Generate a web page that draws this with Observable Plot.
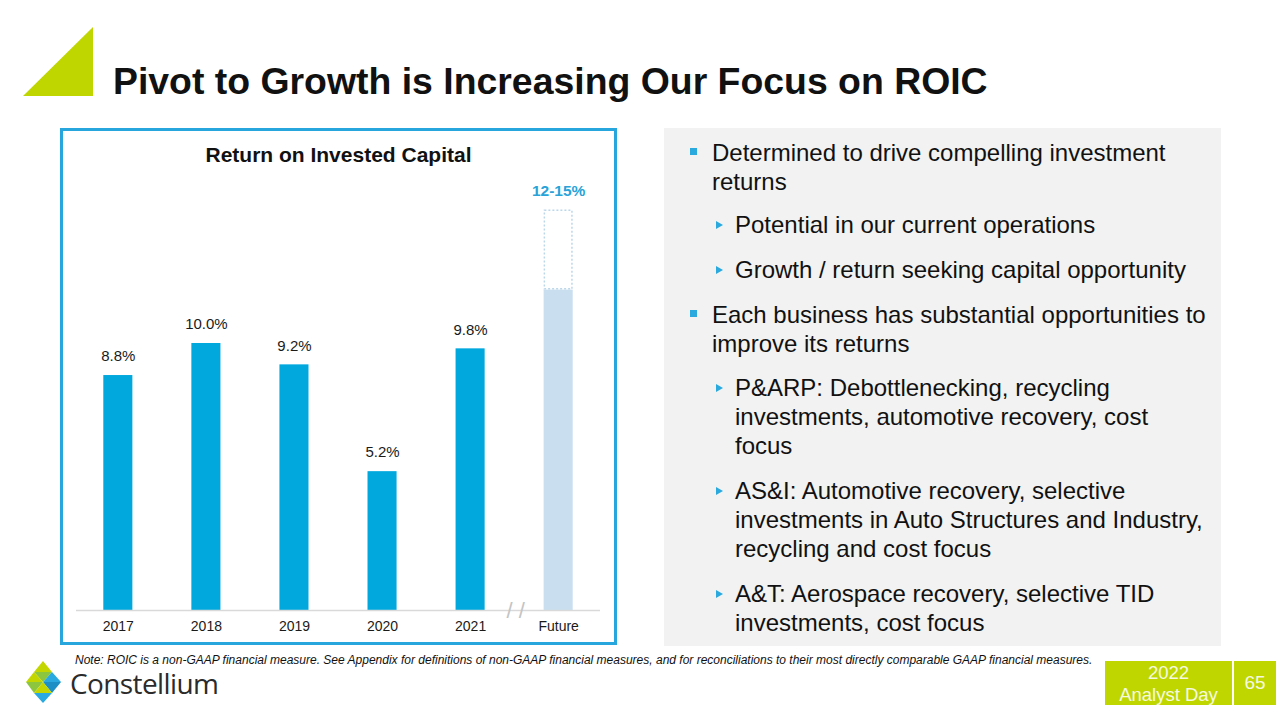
<!DOCTYPE html>
<html><head><meta charset="utf-8">
<script src="https://cdn.jsdelivr.net/npm/d3@7"></script>
<script src="https://cdn.jsdelivr.net/npm/@observablehq/plot@0.6"></script>
<style>
body{margin:0;width:1280px;height:720px;position:relative;background:#fff;font-family:"Liberation Sans",Arial,sans-serif;overflow:hidden;color:#111}
.abs{position:absolute}
#title{left:113px;top:61px;font-size:37.4px;font-weight:bold;color:#111;white-space:nowrap;line-height:40px}
#chartbox{left:60px;top:128px;width:557px;height:517px;box-sizing:border-box;border:3px solid #26a6dc}
#charttitle{left:0;width:551px;top:12px;text-align:center;font-size:21px;line-height:24px;font-weight:bold;color:#111;z-index:2;white-space:nowrap}
#plot{left:0;top:0}
#panel{left:664px;top:128px;width:557px;height:518px;background:#f2f2f2}
.item{position:absolute;font-size:24px;line-height:29px;color:#111;white-space:nowrap}
.sq{position:absolute;width:7px;height:7px;background:#29a9de}
.tri{position:absolute;width:0;height:0;border-top:4.5px solid transparent;border-bottom:4.5px solid transparent;border-left:7px solid #29a9de}
#note{left:75px;top:653px;font-size:12px;line-height:14px;font-style:italic;color:#111;white-space:nowrap}
#brand{left:70px;top:669px;font-family:"Open Sans",sans-serif;font-size:28px;color:#2b2b2b;letter-spacing:-0.6px;line-height:28px}
#badge{left:1105px;top:661px;width:127px;height:44px;background:#bfd600;color:#f6f9e0;font-size:18.5px;line-height:22px;text-align:center;padding-top:1px;box-sizing:border-box}
#page{left:1234px;top:661px;width:42px;height:44px;background:#bfd600;color:#f6f9e0;font-size:19px;line-height:44px;text-align:center}
</style></head><body>
<svg class="abs" style="left:0;top:0" width="120" height="110"><polygon points="23,96 93,27 93,96" fill="#bfd600"/></svg>
<div id="title" class="abs">Pivot to Growth is Increasing Our Focus on ROIC</div>

<div id="chartbox" class="abs">
  <div id="charttitle" class="abs">Return on Invested Capital</div>
  <div id="plot" class="abs"></div>
</div>

<div id="panel" class="abs"></div>
<div id="bullets"></div>

<div id="note" class="abs">Note: ROIC is a non-GAAP financial measure. See Appendix for definitions of non-GAAP financial measures, and for reconciliations to their most directly comparable GAAP financial measures.</div>

<svg class="abs" style="left:20px;top:655px" width="50" height="55">
  <polygon points="23,6 14,17 32,17" fill="#c4d600"/>
  <polygon points="14,17 32,17 23,27" fill="#8cc63f"/>
  <polygon points="6,27 14,17 23,27" fill="#c4d600"/>
  <polygon points="23,27 32,17 41,27" fill="#29a9e0"/>
  <polygon points="6,27 23,27 14,38" fill="#8cc63f"/>
  <polygon points="23,27 41,27 32,38" fill="#1d8fc4"/>
  <polygon points="14,38 23,27 32,38" fill="#c4d600"/>
  <polygon points="14,38 32,38 23,48" fill="#29a9e0"/>
</svg>
<div id="brand" class="abs">Constellium</div>
<div id="badge" class="abs">2022<br>Analyst Day</div>
<div id="page" class="abs">65</div>

<script>
// ---- data ----
const years = ["2017", "2018", "2019", "2020", "2021"];
const roic = [8.8, 10.0, 9.2, 5.2, 9.8];
const valueLabels = ["8.8%", "10.0%", "9.2%", "5.2%", "9.8%"];
const futureCategory = "Future";
const futureLow = 12;
const futureHigh = 15;
const futureLabel = "12-15%";
const categories = [...years, futureCategory];

const bulletItems = [
  {level: 1, lines: ["Determined to drive compelling investment", "returns"]},
  {level: 2, lines: ["Potential in our current operations"]},
  {level: 2, lines: ["Growth / return seeking capital opportunity"]},
  {level: 1, lines: ["Each business has substantial opportunities to", "improve its returns"]},
  {level: 2, lines: ["P&ARP: Debottlenecking, recycling", "investments, automotive recovery, cost", "focus"]},
  {level: 2, lines: ["AS&I: Automotive recovery, selective", "investments in Auto Structures and Industry,", "recycling and cost focus"]},
  {level: 2, lines: ["A&T: Aerospace recovery, selective TID", "investments, cost focus"]}
];

// ---- chart ----
const hist = years.map((c, i) => ({cat: c, v: roic[i], label: valueLabels[i]}));
const fut = [{cat: futureCategory, lo: futureLow, hi: futureHigh, label: futureLabel}];

const chart = Plot.plot({
  width: 551,
  height: 511,
  marginLeft: 13,
  marginRight: 14,
  marginTop: 78.5,
  marginBottom: 32,
  style: {fontFamily: "Liberation Sans, Arial, sans-serif", background: "transparent", overflow: "visible"},
  x: {domain: categories, paddingInner: 0.67, paddingOuter: 0.31, round: false, label: null},
  y: {domain: [0, 15], axis: null},
  marks: [
    Plot.barY(hist, {x: "cat", y: "v", fill: "#00a8de"}),
    Plot.barY(fut, {x: "cat", y: "lo", fill: "#c9dff0"}),
    Plot.barY(fut, {x: "cat", y1: "lo", y2: "hi", fill: "none", stroke: "#bcd6ea", strokeWidth: 1.5, strokeDasharray: "2,2", inset: 0.75}),
    Plot.ruleY([0], {stroke: "#d9d9d9", strokeWidth: 1.5}),
    Plot.text(hist, {x: "cat", y: "v", text: "label", dy: -19, fontSize: 15, fill: "#1a1a1a"}),
    Plot.text(fut, {x: "cat", y: "hi", text: "label", dy: -19, fontSize: 15.5, fontWeight: "bold", fill: "#29a3d8"}),
    Plot.text(fut, {x: "cat", y: () => 0, text: () => "/ /", dx: -43, fontSize: 22, fontWeight: 100, fill: "#c4c4c4"}),
    Plot.axisX({tickSize: 0, tickPadding: 11, fontSize: 14, fill: "#1a1a1a", label: null})
  ]
});
document.getElementById("plot").append(chart);

// ---- bullets ----
const firstLineCenters = [152, 224, 269, 314, 387, 490, 593];
const host = document.getElementById("bullets");
bulletItems.forEach((it, i) => {
  const c = firstLineCenters[i];
  const textLeft = it.level === 1 ? 712 : 735;
  const d = document.createElement("div");
  d.className = "item";
  d.style.left = textLeft + "px";
  d.style.top = (c - 14.5) + "px";
  d.innerHTML = it.lines.map(s => s.replace(/&/g, "&amp;")).join("<br>");
  host.append(d);
  const m = document.createElement("div");
  if (it.level === 1) {
    m.className = "sq";
    m.style.left = "690px";
    m.style.top = (c - 4) + "px";
  } else {
    m.className = "tri";
    m.style.left = "716px";
    m.style.top = (c - 3.5) + "px";
  }
  host.append(m);
});
</script>
</body></html>
